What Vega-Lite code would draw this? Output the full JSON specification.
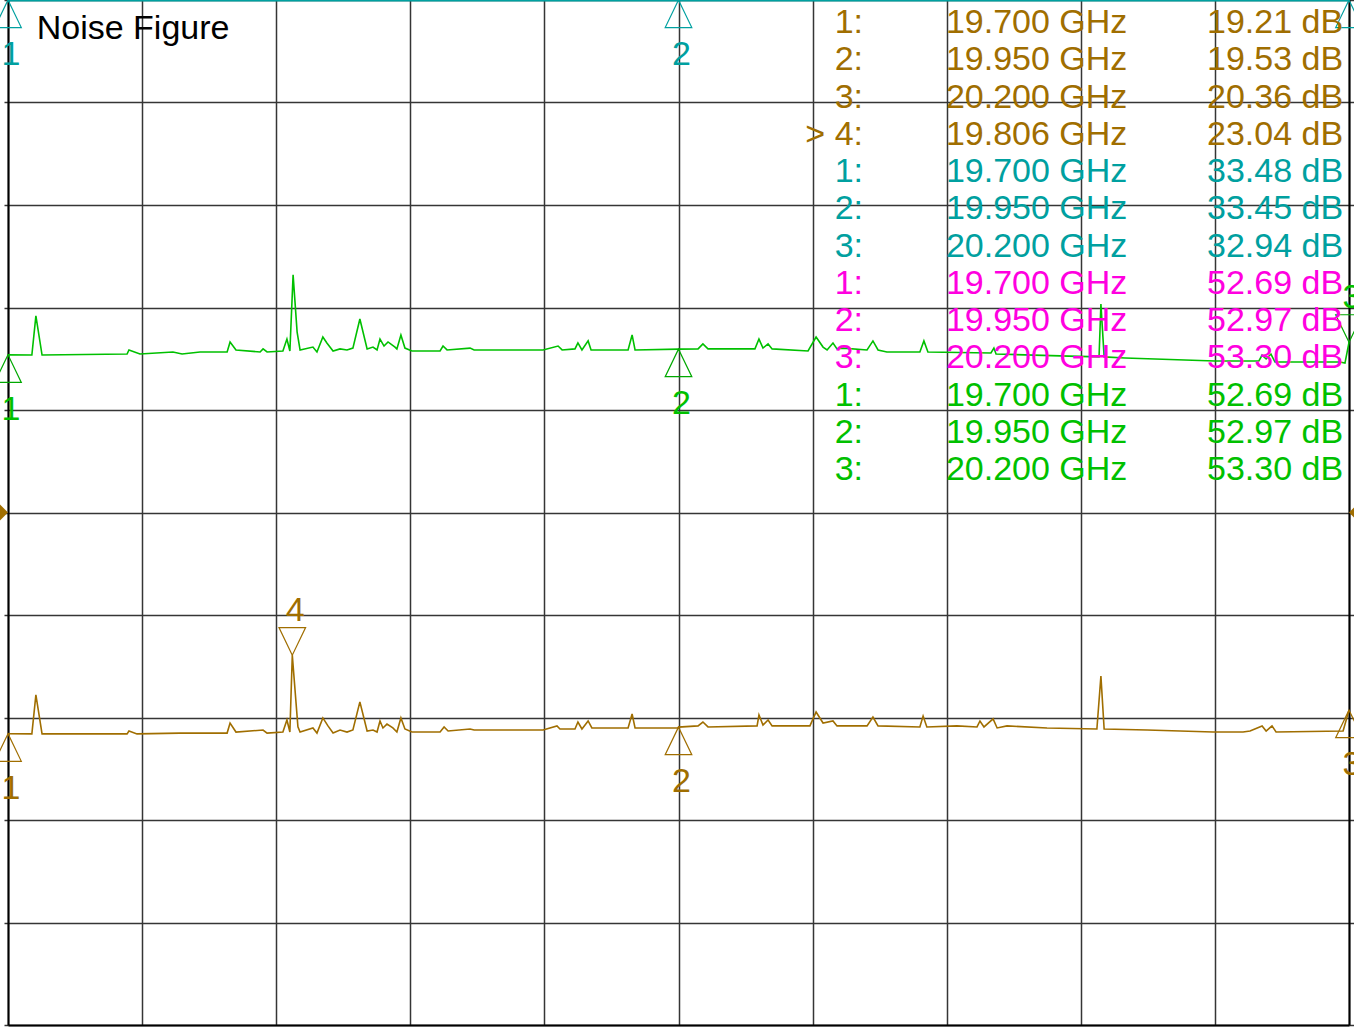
{
  "$schema": "https://vega.github.io/schema/vega-lite/v6.json",
  "width": 1341,
  "height": 1025,
  "autosize": "none",
  "padding": {"left": 8, "top": 0, "right": 5, "bottom": 7},
  "background": "white",
  "config": {"view": {"stroke": null}, "text": {"font": "Liberation Sans"}},
  "datasets": {
    "brown": [
      {"f": 19.7, "db": 19.21}, {"f": 19.7089, "db": 19.2}, {"f": 19.7104, "db": 21.1}, {"f": 19.7127, "db": 19.2},
      {"f": 19.7444, "db": 19.2}, {"f": 19.7451, "db": 19.34}, {"f": 19.7481, "db": 19.2}, {"f": 19.7641, "db": 19.24},
      {"f": 19.7817, "db": 19.24}, {"f": 19.7828, "db": 19.73}, {"f": 19.785, "db": 19.29}, {"f": 19.7951, "db": 19.39},
      {"f": 19.7966, "db": 19.24}, {"f": 19.8025, "db": 19.29}, {"f": 19.804, "db": 19.88}, {"f": 19.8051, "db": 19.29},
      {"f": 19.806, "db": 23.04}, {"f": 19.8081, "db": 19.54}, {"f": 19.8089, "db": 19.29}, {"f": 19.8137, "db": 19.49},
      {"f": 19.8152, "db": 19.24}, {"f": 19.8174, "db": 19.98}, {"f": 19.8193, "db": 19.59}, {"f": 19.8212, "db": 19.24},
      {"f": 19.8238, "db": 19.39}, {"f": 19.8264, "db": 19.29}, {"f": 19.8286, "db": 19.39}, {"f": 19.8312, "db": 20.76},
      {"f": 19.8339, "db": 19.34}, {"f": 19.8361, "db": 19.39}, {"f": 19.8376, "db": 19.29}, {"f": 19.8387, "db": 19.83},
      {"f": 19.8398, "db": 19.49}, {"f": 19.8413, "db": 19.68}, {"f": 19.8435, "db": 19.49}, {"f": 19.845, "db": 19.29},
      {"f": 19.8465, "db": 19.98}, {"f": 19.848, "db": 19.44}, {"f": 19.8506, "db": 19.29}, {"f": 19.8611, "db": 19.29},
      {"f": 19.8626, "db": 19.54}, {"f": 19.8641, "db": 19.34}, {"f": 19.8723, "db": 19.44}, {"f": 19.8738, "db": 19.39},
      {"f": 19.8995, "db": 19.39}, {"f": 19.9047, "db": 19.59}, {"f": 19.9058, "db": 19.44}, {"f": 19.9114, "db": 19.44},
      {"f": 19.9125, "db": 19.78}, {"f": 19.914, "db": 19.44}, {"f": 19.9163, "db": 19.83}, {"f": 19.9177, "db": 19.49},
      {"f": 19.9312, "db": 19.49}, {"f": 19.9327, "db": 20.17}, {"f": 19.9338, "db": 19.49}, {"f": 19.9498, "db": 19.49},
      {"f": 19.95, "db": 19.53}, {"f": 19.9573, "db": 19.59}, {"f": 19.9591, "db": 19.78}, {"f": 19.961, "db": 19.54},
      {"f": 19.9793, "db": 19.59}, {"f": 19.98, "db": 20.12}, {"f": 19.9815, "db": 19.63}, {"f": 19.9834, "db": 19.88},
      {"f": 19.9849, "db": 19.59}, {"f": 19.999, "db": 19.59}, {"f": 20.0013, "db": 20.27}, {"f": 20.0039, "db": 19.73},
      {"f": 20.0076, "db": 19.83}, {"f": 20.0091, "db": 19.59}, {"f": 20.0203, "db": 19.59}, {"f": 20.0225, "db": 20.02},
      {"f": 20.0244, "db": 19.59}, {"f": 20.04, "db": 19.54}, {"f": 20.0412, "db": 20.07}, {"f": 20.0426, "db": 19.54},
      {"f": 20.0538, "db": 19.59}, {"f": 20.0613, "db": 19.54}, {"f": 20.0624, "db": 19.83}, {"f": 20.0639, "db": 19.54},
      {"f": 20.0673, "db": 19.93}, {"f": 20.0688, "db": 19.49}, {"f": 20.0725, "db": 19.59}, {"f": 20.0874, "db": 19.49},
      {"f": 20.106, "db": 19.44}, {"f": 20.1075, "db": 22.02}, {"f": 20.1087, "db": 19.44}, {"f": 20.1247, "db": 19.39},
      {"f": 20.1493, "db": 19.29}, {"f": 20.1605, "db": 19.29}, {"f": 20.1631, "db": 19.34}, {"f": 20.1676, "db": 19.59},
      {"f": 20.1691, "db": 19.34}, {"f": 20.1713, "db": 19.59}, {"f": 20.1728, "db": 19.29}, {"f": 20.1978, "db": 19.34},
      {"f": 20.2, "db": 20.36}
    ],
    "green": [
      {"f": 19.7, "db": 52.69}, {"f": 19.7089, "db": 52.68}, {"f": 19.7104, "db": 54.59}, {"f": 19.7127, "db": 52.68},
      {"f": 19.7444, "db": 52.73}, {"f": 19.7451, "db": 52.93}, {"f": 19.7492, "db": 52.73}, {"f": 19.7615, "db": 52.83},
      {"f": 19.7649, "db": 52.73}, {"f": 19.7716, "db": 52.83}, {"f": 19.7817, "db": 52.83}, {"f": 19.7828, "db": 53.32},
      {"f": 19.785, "db": 52.93}, {"f": 19.794, "db": 52.83}, {"f": 19.7951, "db": 52.98}, {"f": 19.7966, "db": 52.83},
      {"f": 19.8025, "db": 52.88}, {"f": 19.804, "db": 53.46}, {"f": 19.8051, "db": 52.88}, {"f": 19.8063, "db": 56.59},
      {"f": 19.8078, "db": 53.8}, {"f": 19.8089, "db": 52.93}, {"f": 19.8137, "db": 53.07}, {"f": 19.8152, "db": 52.83},
      {"f": 19.8174, "db": 53.56}, {"f": 19.8189, "db": 53.27}, {"f": 19.8212, "db": 52.88}, {"f": 19.8238, "db": 52.98},
      {"f": 19.8264, "db": 52.93}, {"f": 19.8286, "db": 53.02}, {"f": 19.8312, "db": 54.44}, {"f": 19.8339, "db": 52.98},
      {"f": 19.8361, "db": 53.07}, {"f": 19.8376, "db": 52.93}, {"f": 19.8387, "db": 53.46}, {"f": 19.8402, "db": 53.12},
      {"f": 19.8417, "db": 53.32}, {"f": 19.8443, "db": 53.07}, {"f": 19.845, "db": 52.98}, {"f": 19.8465, "db": 53.66},
      {"f": 19.848, "db": 53.02}, {"f": 19.8506, "db": 52.88}, {"f": 19.8611, "db": 52.88}, {"f": 19.8622, "db": 53.12},
      {"f": 19.8637, "db": 52.93}, {"f": 19.8723, "db": 53.02}, {"f": 19.8738, "db": 52.93}, {"f": 19.8995, "db": 52.93},
      {"f": 19.9051, "db": 53.12}, {"f": 19.9066, "db": 52.93}, {"f": 19.9114, "db": 52.98}, {"f": 19.9125, "db": 53.27},
      {"f": 19.914, "db": 52.93}, {"f": 19.9163, "db": 53.37}, {"f": 19.9174, "db": 52.93}, {"f": 19.9312, "db": 52.93},
      {"f": 19.9327, "db": 53.66}, {"f": 19.9338, "db": 52.93}, {"f": 19.95, "db": 52.97}, {"f": 19.9573, "db": 52.98},
      {"f": 19.9591, "db": 53.22}, {"f": 19.961, "db": 52.98}, {"f": 19.9785, "db": 52.98}, {"f": 19.98, "db": 53.46},
      {"f": 19.9815, "db": 53.02}, {"f": 19.9834, "db": 53.22}, {"f": 19.9849, "db": 52.98}, {"f": 19.9983, "db": 52.88},
      {"f": 20.0013, "db": 53.56}, {"f": 20.0039, "db": 53.07}, {"f": 20.0054, "db": 52.93}, {"f": 20.0076, "db": 53.27},
      {"f": 20.0091, "db": 52.98}, {"f": 20.0113, "db": 53.02}, {"f": 20.0203, "db": 52.93}, {"f": 20.0225, "db": 53.37},
      {"f": 20.0244, "db": 52.93}, {"f": 20.0277, "db": 52.83}, {"f": 20.04, "db": 52.83}, {"f": 20.0415, "db": 53.37},
      {"f": 20.043, "db": 52.83}, {"f": 20.0665, "db": 52.78}, {"f": 20.0676, "db": 53.02}, {"f": 20.0684, "db": 52.73},
      {"f": 20.0956, "db": 52.63}, {"f": 20.1068, "db": 52.59}, {"f": 20.1075, "db": 55.17}, {"f": 20.1087, "db": 52.59},
      {"f": 20.1165, "db": 52.54}, {"f": 20.15, "db": 52.39}, {"f": 20.1664, "db": 52.39}, {"f": 20.1676, "db": 52.68},
      {"f": 20.1691, "db": 52.49}, {"f": 20.1709, "db": 52.73}, {"f": 20.1724, "db": 52.34}, {"f": 20.1966, "db": 52.34},
      {"f": 20.1985, "db": 52.29}, {"f": 20.2, "db": 53.3}
    ],
    "teal": [
      {"f": 19.7, "db": 33.48}, {"f": 19.8, "db": 33.5}, {"f": 19.95, "db": 33.45}, {"f": 20.1, "db": 33.2}, {"f": 20.15, "db": 33.1}, {"f": 20.2, "db": 32.94}
    ],
    "markers": [
      {"trace": "brown", "id": "1", "f": 19.7, "db": 19.21, "dir": "up"},
      {"trace": "brown", "id": "2", "f": 19.95, "db": 19.53, "dir": "up"},
      {"trace": "brown", "id": "3", "f": 20.2, "db": 20.36, "dir": "up"},
      {"trace": "brown", "id": "4", "f": 19.806, "db": 23.04, "dir": "down"},
      {"trace": "teal", "id": "1", "f": 19.7, "db": 33.48, "dir": "up"},
      {"trace": "teal", "id": "2", "f": 19.95, "db": 33.45, "dir": "up"},
      {"trace": "teal", "id": "3", "f": 20.2, "db": 32.94, "dir": "up"},
      {"trace": "green", "id": "1", "f": 19.7, "db": 52.69, "dir": "up"},
      {"trace": "green", "id": "2", "f": 19.95, "db": 52.97, "dir": "up"},
      {"trace": "green", "id": "3", "f": 20.2, "db": 53.3, "dir": "down"}
    ],
    "refs": [
      {"f": 19.7, "db": 30, "dir": "left"},
      {"f": 20.2, "db": 30, "dir": "right"}
    ],
    "title": [
      {"title": "Noise Figure"}
    ],
    "table": [
      {"row": 0, "trace": "brown", "label": "1:", "freq": "19.700 GHz", "val": "19.21 dB"},
      {"row": 1, "trace": "brown", "label": "2:", "freq": "19.950 GHz", "val": "19.53 dB"},
      {"row": 2, "trace": "brown", "label": "3:", "freq": "20.200 GHz", "val": "20.36 dB"},
      {"row": 3, "trace": "brown", "label": "> 4:", "freq": "19.806 GHz", "val": "23.04 dB"},
      {"row": 4, "trace": "teal", "label": "1:", "freq": "19.700 GHz", "val": "33.48 dB"},
      {"row": 5, "trace": "teal", "label": "2:", "freq": "19.950 GHz", "val": "33.45 dB"},
      {"row": 6, "trace": "teal", "label": "3:", "freq": "20.200 GHz", "val": "32.94 dB"},
      {"row": 7, "trace": "magenta", "label": "1:", "freq": "19.700 GHz", "val": "52.69 dB"},
      {"row": 8, "trace": "magenta", "label": "2:", "freq": "19.950 GHz", "val": "52.97 dB"},
      {"row": 9, "trace": "magenta", "label": "3:", "freq": "20.200 GHz", "val": "53.30 dB"},
      {"row": 10, "trace": "green", "label": "1:", "freq": "19.700 GHz", "val": "52.69 dB"},
      {"row": 11, "trace": "green", "label": "2:", "freq": "19.950 GHz", "val": "52.97 dB"},
      {"row": 12, "trace": "green", "label": "3:", "freq": "20.200 GHz", "val": "53.30 dB"}
    ]
  },
  "layer": [
    {
      "layer": [
        {
          "data": {"name": "brown"},
          "mark": {"type": "line", "color": "#A06E00", "strokeWidth": 1.6},
          "encoding": {
            "x": {"field": "f", "type": "quantitative",
              "scale": {"domain": [19.7, 20.2], "nice": false, "zero": false},
              "axis": {"values": [19.7, 19.75, 19.8, 19.85, 19.9, 19.95, 20.0, 20.05, 20.1, 20.15, 20.2], "grid": true, "gridColor": "#353535", "gridWidth": 1.5, "gridOpacity": 1, "labels": false, "ticks": false, "domain": true, "domainColor": "#000000", "domainWidth": 2, "title": null}},
            "y": {"field": "db", "type": "quantitative",
              "scale": {"domain": [5, 55], "nice": false, "zero": false},
              "axis": {"orient": "left", "values": [5, 10, 15, 20, 25, 30, 35, 40, 45, 50, 55], "grid": true, "gridColor": "#353535", "gridWidth": 1.5, "gridOpacity": 1, "labels": false, "ticks": true, "tickSize": 4, "tickColor": "#353535", "tickWidth": 1.5, "domain": true, "domainColor": "#000000", "domainWidth": 2, "title": null}}
          }
        },
        {
          "data": {"name": "markers"},
          "transform": [{"filter": "datum.trace === 'brown'"}],
          "mark": {"type": "point", "filled": false, "color": "#A06E00", "size": 784, "strokeWidth": 1.2, "opacity": 1},
          "encoding": {
            "x": {"field": "f", "type": "quantitative"},
            "y": {"field": "db", "type": "quantitative"},
            "shape": {"field": "dir", "type": "nominal", "legend": null,
              "scale": {"domain": ["up", "down", "left", "right"], "range": ["M0,0L-0.95,1.97L0.95,1.97Z", "M0,0L-0.95,-1.97L0.95,-1.97Z", "M0,0L-1,-1L-1,1Z", "M0,0L1,-1L1,1Z"]}}
          }
        },
        {
          "data": {"name": "markers"},
          "transform": [{"filter": "datum.trace === 'brown' && datum.dir === 'up'"}],
          "mark": {"type": "text", "color": "#A06E00", "fontSize": 34, "baseline": "alphabetic", "align": "center", "dy": 65, "dx": 3},
          "encoding": {
            "x": {"field": "f", "type": "quantitative"},
            "y": {"field": "db", "type": "quantitative"},
            "text": {"field": "id"}
          }
        },
        {
          "data": {"name": "markers"},
          "transform": [{"filter": "datum.trace === 'brown' && datum.dir === 'down'"}],
          "mark": {"type": "text", "color": "#A06E00", "fontSize": 34, "baseline": "alphabetic", "align": "center", "dy": -34, "dx": 3},
          "encoding": {
            "x": {"field": "f", "type": "quantitative"},
            "y": {"field": "db", "type": "quantitative"},
            "text": {"field": "id"}
          }
        },
        {
          "data": {"name": "refs"},
          "mark": {"type": "point", "filled": true, "color": "#A06E00", "size": 256, "opacity": 1, "strokeWidth": 0},
          "encoding": {
            "x": {"field": "f", "type": "quantitative"},
            "y": {"field": "db", "type": "quantitative"},
            "shape": {"field": "dir", "type": "nominal", "legend": null,
              "scale": {"domain": ["up", "down", "left", "right"], "range": ["M0,0L-0.95,1.97L0.95,1.97Z", "M0,0L-0.95,-1.97L0.95,-1.97Z", "M0,0L-1,-1L-1,1Z", "M0,0L1,-1L1,1Z"]}}
          }
        }
      ]
    },
    {
      "layer": [
        {
          "data": {"name": "green"},
          "mark": {"type": "line", "color": "#00C000", "strokeWidth": 1.6},
          "encoding": {
            "x": {"field": "f", "type": "quantitative"},
            "y": {"field": "db", "type": "quantitative",
              "scale": {"domain": [20, 70], "nice": false, "zero": false},
              "axis": {"orient": "right", "values": [20, 25, 30, 35, 40, 45, 50, 55, 60, 65, 70], "grid": false, "labels": false, "ticks": true, "tickSize": 5, "tickColor": "#353535", "tickWidth": 1.5, "domain": true, "domainColor": "#000000", "domainWidth": 2, "title": null}}
          }
        },
        {
          "data": {"name": "markers"},
          "transform": [{"filter": "datum.trace === 'green'"}],
          "mark": {"type": "point", "filled": false, "color": "#00A800", "size": 784, "strokeWidth": 1.2, "opacity": 1},
          "encoding": {
            "x": {"field": "f", "type": "quantitative"},
            "y": {"field": "db", "type": "quantitative"},
            "shape": {"field": "dir", "type": "nominal", "legend": null,
              "scale": {"domain": ["up", "down", "left", "right"], "range": ["M0,0L-0.95,1.97L0.95,1.97Z", "M0,0L-0.95,-1.97L0.95,-1.97Z", "M0,0L-1,-1L-1,1Z", "M0,0L1,-1L1,1Z"]}}
          }
        },
        {
          "data": {"name": "markers"},
          "transform": [{"filter": "datum.trace === 'green' && datum.dir === 'up'"}],
          "mark": {"type": "text", "color": "#00C000", "fontSize": 34, "baseline": "alphabetic", "align": "center", "dy": 65, "dx": 3},
          "encoding": {
            "x": {"field": "f", "type": "quantitative"},
            "y": {"field": "db", "type": "quantitative"},
            "text": {"field": "id"}
          }
        },
        {
          "data": {"name": "markers"},
          "transform": [{"filter": "datum.trace === 'green' && datum.dir === 'down'"}],
          "mark": {"type": "text", "color": "#00C000", "fontSize": 34, "baseline": "alphabetic", "align": "center", "dy": -34, "dx": 3},
          "encoding": {
            "x": {"field": "f", "type": "quantitative"},
            "y": {"field": "db", "type": "quantitative"},
            "text": {"field": "id"}
          }
        }
      ]
    },
    {
      "layer": [
        {
          "data": {"name": "teal"},
          "mark": {"type": "line", "color": "#00A0A0", "strokeWidth": 3},
          "encoding": {
            "x": {"field": "f", "type": "quantitative"},
            "y": {"field": "db", "type": "quantitative",
              "scale": {"domain": [-25, 25], "nice": false, "zero": false, "clamp": true},
              "axis": null}
          }
        },
        {
          "data": {"name": "markers"},
          "transform": [{"filter": "datum.trace === 'teal'"}],
          "mark": {"type": "point", "filled": false, "color": "#00A0A0", "size": 784, "strokeWidth": 1.2, "opacity": 1},
          "encoding": {
            "x": {"field": "f", "type": "quantitative"},
            "y": {"field": "db", "type": "quantitative"},
            "shape": {"field": "dir", "type": "nominal", "legend": null,
              "scale": {"domain": ["up", "down", "left", "right"], "range": ["M0,0L-0.95,1.97L0.95,1.97Z", "M0,0L-0.95,-1.97L0.95,-1.97Z", "M0,0L-1,-1L-1,1Z", "M0,0L1,-1L1,1Z"]}}
          }
        },
        {
          "data": {"name": "markers"},
          "transform": [{"filter": "datum.trace === 'teal' && datum.id !== '3'"}],
          "mark": {"type": "text", "color": "#00A0A0", "fontSize": 34, "baseline": "alphabetic", "align": "center", "dy": 65, "dx": 3},
          "encoding": {
            "x": {"field": "f", "type": "quantitative"},
            "y": {"field": "db", "type": "quantitative"},
            "text": {"field": "id"}
          }
        }
      ]
    },
    {
      "layer": [
        {
          "data": {"name": "table"},
          "mark": {"type": "text", "fontSize": 34, "baseline": "alphabetic", "align": "right"},
          "encoding": {
            "x": {"datum": 20.0188},
            "y": {"field": "row", "type": "quantitative", "scale": {"domain": [-0.886, 26.631], "reverse": true, "nice": false, "zero": false}, "axis": null},
            "text": {"field": "label"},
            "color": {"field": "trace", "type": "nominal", "legend": null,
              "scale": {"domain": ["brown", "teal", "magenta", "green"], "range": ["#A06E00", "#00A0A0", "#FF00E0", "#00C000"]}}
          }
        },
        {
          "data": {"name": "table"},
          "mark": {"type": "text", "fontSize": 34, "baseline": "alphabetic", "align": "left"},
          "encoding": {
            "x": {"datum": 20.0497},
            "y": {"field": "row", "type": "quantitative"},
            "text": {"field": "freq"},
            "color": {"field": "trace", "type": "nominal", "legend": null}
          }
        },
        {
          "data": {"name": "table"},
          "mark": {"type": "text", "fontSize": 34, "baseline": "alphabetic", "align": "right"},
          "encoding": {
            "x": {"datum": 20.1978},
            "y": {"field": "row", "type": "quantitative"},
            "text": {"field": "val"},
            "color": {"field": "trace", "type": "nominal", "legend": null}
          }
        },
        {
          "data": {"name": "title"},
          "mark": {"type": "text", "fontSize": 34, "baseline": "alphabetic", "align": "left", "color": "#000000"},
          "encoding": {
            "x": {"datum": 19.7107},
            "y": {"datum": 0.16},
            "text": {"field": "title"}
          }
        }
      ]
    }
  ],
  "resolve": {"scale": {"y": "independent"}, "axis": {"y": "independent"}}
}
